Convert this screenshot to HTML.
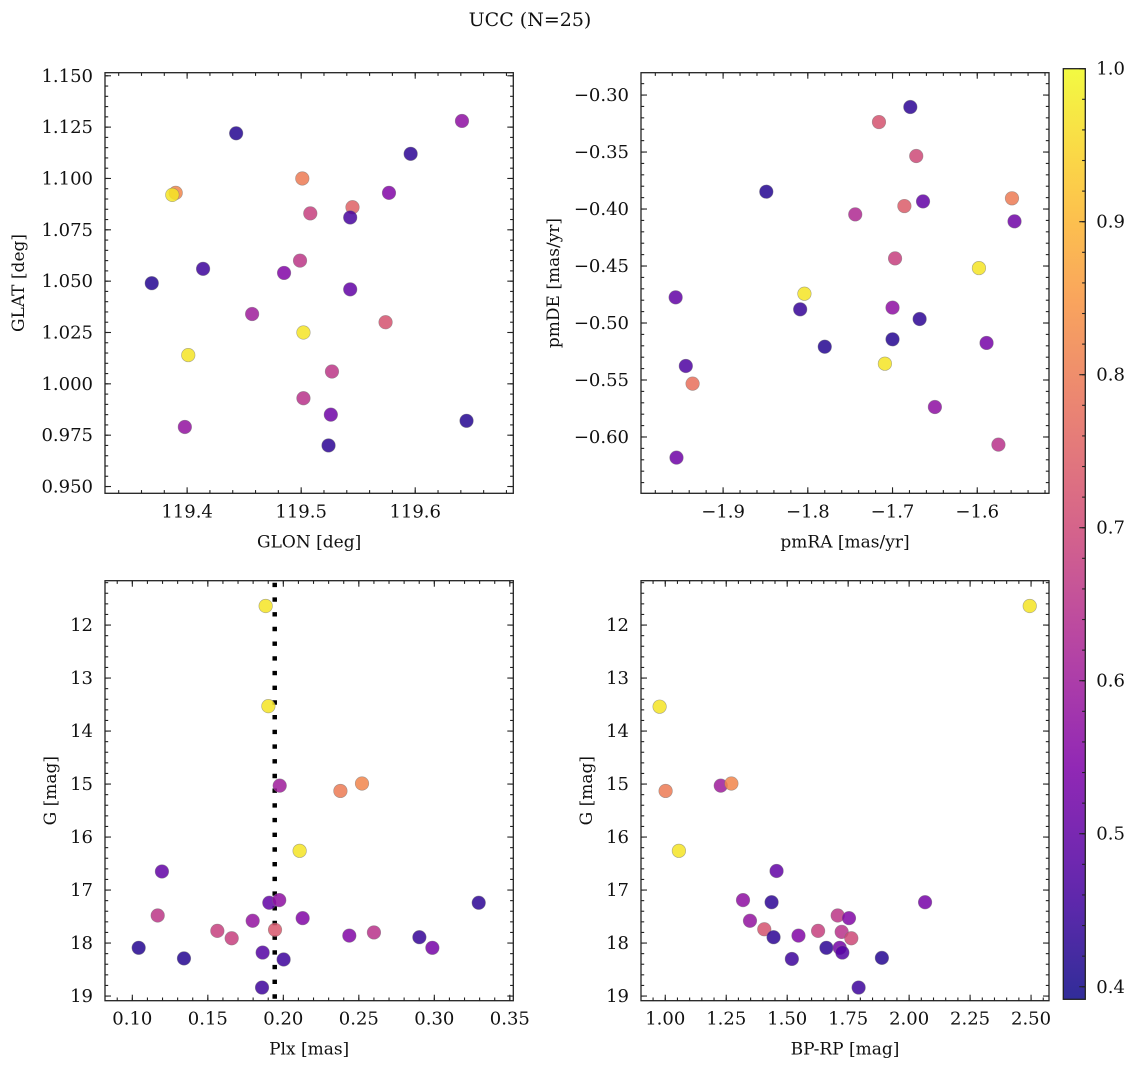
<!DOCTYPE html>
<html><head><meta charset="utf-8">
<style>
html,body{margin:0;padding:0;background:#fff;}
svg{display:block;font-family:"DejaVu Serif","Liberation Serif",serif;}
</style></head>
<body>
<svg id="fig" width="1136" height="1068" viewBox="0 0 1136 1068" xmlns="http://www.w3.org/2000/svg">
<text x="530" y="26" font-size="19" text-anchor="middle" fill="#111">UCC (N=25)</text>
</svg>
<script>
// ---- data: panel 1 (GLON vs GLAT)
const p1Glon=[119.641,119.443,119.596,119.390,119.387,119.501,119.577,119.545,119.508,119.543,119.414,119.499,119.485,119.369,119.543,119.457,119.502,119.574,119.401,119.527,119.502,119.526,119.398,119.645,119.524];
const p1Glat=[1.128,1.122,1.112,1.093,1.092,1.100,1.093,1.086,1.083,1.081,1.056,1.060,1.054,1.049,1.046,1.034,1.025,1.030,1.014,1.006,0.993,0.985,0.979,0.982,0.970];
const p1Prob=[0.57,0.42,0.43,0.82,0.97,0.80,0.55,0.75,0.68,0.46,0.45,0.66,0.55,0.42,0.50,0.60,0.97,0.72,0.97,0.66,0.65,0.52,0.58,0.42,0.43];
// ---- panel 2 (pmRA vs pmDE)
const p2PmRA=[-1.679,-1.716,-1.672,-1.849,-1.559,-1.686,-1.664,-1.744,-1.556,-1.697,-1.598,-1.804,-1.956,-1.700,-1.809,-1.668,-1.700,-1.780,-1.589,-1.944,-1.709,-1.936,-1.650,-1.575,-1.955];
const p2PmDE=[-0.3105,-0.3237,-0.3535,-0.3848,-0.3906,-0.3974,-0.3933,-0.4047,-0.4108,-0.4433,-0.4518,-0.4743,-0.4775,-0.4865,-0.4880,-0.4965,-0.5143,-0.5208,-0.5175,-0.5377,-0.5357,-0.5532,-0.5737,-0.6067,-0.6181];
const p2Prob=[0.43,0.72,0.70,0.42,0.80,0.74,0.50,0.63,0.52,0.68,0.97,0.97,0.50,0.57,0.44,0.43,0.42,0.42,0.53,0.47,0.97,0.78,0.57,0.65,0.52];
// ---- panel 3 (Plx vs G)
const p3Plx=[0.1883,0.1901,0.1976,0.2378,0.2521,0.2108,0.1196,0.1168,0.1907,0.1973,0.2128,0.3294,0.1797,0.1563,0.1658,0.1945,0.2437,0.2600,0.2901,0.2987,0.1042,0.1342,0.1863,0.2002,0.1859];
const p3G=[11.64,13.53,15.03,15.13,14.99,16.26,16.65,17.48,17.24,17.19,17.53,17.24,17.58,17.77,17.91,17.75,17.86,17.80,17.89,18.09,18.09,18.29,18.18,18.31,18.84];
const p3Prob=[0.97,0.97,0.60,0.80,0.82,0.97,0.50,0.66,0.50,0.57,0.55,0.43,0.58,0.68,0.68,0.73,0.55,0.65,0.44,0.53,0.42,0.42,0.48,0.45,0.45];
const p3PlxMedian=0.1943;
// ---- panel 4 (BP-RP vs G)
const p4BpRp=[2.4946,0.9768,1.0014,1.2275,1.2711,1.0559,1.4564,1.3188,1.4360,2.0654,1.3474,1.7071,1.7534,1.4060,1.6267,1.7234,1.5463,1.7629,1.4441,1.6608,1.7153,1.7262,1.5191,1.8883,1.7929];
const p4G=[11.64,13.54,15.13,15.03,14.99,16.26,16.64,17.19,17.23,17.23,17.58,17.48,17.53,17.74,17.77,17.79,17.86,17.91,17.89,18.09,18.09,18.18,18.30,18.28,18.84];
const p4Prob=[0.97,0.97,0.80,0.60,0.82,0.97,0.50,0.57,0.43,0.53,0.58,0.66,0.55,0.72,0.68,0.65,0.55,0.70,0.43,0.43,0.53,0.48,0.45,0.42,0.45];
// ---- tick labels
const p1XTicks=[119.4,119.5,119.6];
const p1YTicks=[0.950,0.975,1.000,1.025,1.050,1.075,1.100,1.125,1.150];
const p2XTicks=[-1.9,-1.8,-1.7,-1.6];
const p2YTicks=[-0.60,-0.55,-0.50,-0.45,-0.40,-0.35,-0.30];
const p3XTicks=[0.10,0.15,0.20,0.25,0.30,0.35];
const gTicks=[12,13,14,15,16,17,18,19];
const p4XTicks=[1.00,1.25,1.50,1.75,2.00,2.25,2.50];
const cbTicks=[0.4,0.5,0.6,0.7,0.8,0.9,1.0];
const vmin=0.3918, vmax=1.0;

const NS="http://www.w3.org/2000/svg";
const svg=document.getElementById('fig');
function mk(tag,attrs,parent){const e=document.createElementNS(NS,tag);for(const k in attrs)e.setAttribute(k,attrs[k]);(parent||svg).appendChild(e);return e;}
const stops=[[13,8,135],[76,2,161],[126,3,168],[169,35,149],[204,71,120],[229,107,93],[248,148,65],[253,195,40],[240,249,33]];
function plasma(t){t=Math.max(0,Math.min(1,t));const p=t*8,i=Math.min(7,Math.floor(p)),f=p-i;const a=stops[i],b=stops[i+1];return 'rgb('+a.map((v,k)=>Math.round(v+(b[k]-v)*f)).join(',')+')';}
function fmt(v,d){return (v<0?'\u2212':'')+Math.abs(v).toFixed(d);}

function panel(o){
  const g=mk('g',{});
  
  
  const sx=v=>o.x0+(v-o.xd[0])/(o.xd[1]-o.xd[0])*(o.x1-o.x0);
  const sy=v=>o.inv? o.y0+(v-o.yd[0])/(o.yd[1]-o.yd[0])*(o.y1-o.y0) : o.y1-(v-o.yd[0])/(o.yd[1]-o.yd[0])*(o.y1-o.y0);
  // extra line
  if(o.vline!==undefined){const l=mk('line',{x1:sx(o.vline),x2:sx(o.vline),y1:o.y0+2,y2:o.y1,stroke:'#000','stroke-width':4.5,'stroke-dasharray':'4.4 10.3'},g);
    }
  // points
  for(let i=0;i<o.xs.length;i++){
    const c=mk('circle',{cx:sx(o.xs[i]),cy:sy(o.ys[i]),r:6.8,fill:plasma((o.cs[i]-vmin)/(vmax-vmin)),'fill-opacity':0.85,stroke:'#777','stroke-opacity':0.6,'stroke-width':0.6},g);
    
    
  }
  // frame
  const fr=mk('rect',{x:o.x0,y:o.y0,width:o.x1-o.x0,height:o.y1-o.y0,fill:'none',stroke:'#222','stroke-width':1.3},g);
  
  // ticks
  const tk=mk('g',{stroke:'#222','stroke-width':1.1},g);
  
  const ln=(x1,y1,x2,y2)=>mk('line',{x1,y1,x2,y2},tk);
  const maj=6,mnr=3.2;
  function xt(v,L){const x=sx(v);if(x<o.x0-0.5||x>o.x1+0.5)return;ln(x,o.y1,x,o.y1-L);ln(x,o.y0,x,o.y0+L);}
  function yt(v,L){const y=sy(v);if(y<o.y0-0.5||y>o.y1+0.5)return;ln(o.x0,y,o.x0+L,y);ln(o.x1,y,o.x1-L,y);}
  const xa=Math.min(...o.xd),xb=Math.max(...o.xd),ya=Math.min(...o.yd),yb=Math.max(...o.yd);
  for(let k=Math.ceil(xa/o.xm-1e-6);k*o.xm<=xb+1e-9;k++)xt(k*o.xm,mnr);
  for(let k=Math.ceil(ya/o.ym-1e-6);k*o.ym<=yb+1e-9;k++)yt(k*o.ym,mnr);
  o.xt.forEach(v=>{xt(v,maj);const x=sx(v);if(x<o.x0-1||x>o.x1+1)return;
    const t=mk('text',{x:x,y:o.y1+24,'font-size':18,'text-anchor':'middle',fill:'#111'},g);t.textContent=fmt(v,o.xdp);
    });
  o.yt.forEach(v=>{yt(v,maj);const y=sy(v);
    const t=mk('text',{x:o.x0-12,y:y+6,'font-size':18,'text-anchor':'end',fill:'#111'},g);t.textContent=fmt(v,o.ydp);
    });
  const xl=mk('text',{x:(o.x0+o.x1)/2,y:o.y1+54,'font-size':17,'text-anchor':'middle',fill:'#111'},g);xl.textContent=o.xlab;
  
  const yl=mk('text',{x:0,y:0,'font-size':17,'text-anchor':'middle',fill:'#111',transform:'translate('+o.ylx+','+((o.y0+o.y1)/2)+') rotate(-90)'},g);yl.textContent=o.ylab;
  
}

panel({name:'glon-glat-panel',x0:105,x1:513.3,y0:72.7,y1:493.3,xd:[119.328,119.686],yd:[0.9467,1.1515],xs:p1Glon,ys:p1Glat,cs:p1Prob,xt:p1XTicks,yt:p1YTicks,xm:0.02,ym:0.005,xdp:1,ydp:3,xlab:'GLON [deg]',ylab:'GLAT [deg]',ylx:24});
panel({name:'pm-panel',x0:641,x1:1049,y0:72.7,y1:493.3,xd:[-1.9969,-1.5153],yd:[-0.6494,-0.2804],xs:p2PmRA,ys:p2PmDE,cs:p2Prob,xt:p2XTicks,yt:p2YTicks,xm:0.02,ym:0.01,xdp:1,ydp:2,xlab:'pmRA [mas/yr]',ylab:'pmDE [mas/yr]',ylx:559});
panel({name:'plx-g-panel',x0:105,x1:513.3,y0:580.7,y1:1000.7,xd:[0.0819,0.3523],yd:[11.163,19.088],inv:true,xs:p3Plx,ys:p3G,cs:p3Prob,xt:p3XTicks,yt:gTicks,xm:0.01,ym:0.2,xdp:2,ydp:0,xlab:'Plx [mas]',ylab:'G [mag]',ylx:56,vline:p3PlxMedian});
panel({name:'cmd-panel',x0:641,x1:1049,y0:580.7,y1:1000.7,xd:[0.9005,2.5736],yd:[11.163,19.088],inv:true,xs:p4BpRp,ys:p4G,cs:p4Prob,xt:p4XTicks,yt:gTicks,xm:0.05,ym:0.2,xdp:2,ydp:0,xlab:'BP-RP [mag]',ylab:'G [mag]',ylx:592});

// colorbar
(function(){
  const x0=1063.3,x1=1085.3,y0=68.7,y1=999.3;
  const defs=mk('defs',{});
  const lg=mk('linearGradient',{id:'cbg',x1:0,y1:1,x2:0,y2:0},defs);
  for(let i=0;i<=20;i++){const f=i/20;mk('stop',{offset:f,'stop-color':plasma(f)},lg);}
  const g=mk('g',{});
  
  mk('rect',{x:x0,y:y0,width:x1-x0,height:y1-y0,fill:'url(#cbg)','fill-opacity':0.85},g);
  mk('rect',{x:x0,y:y0,width:x1-x0,height:y1-y0,fill:'none',stroke:'#222','stroke-width':1.3},g);
  const sy=v=>y1-(v-vmin)/(vmax-vmin)*(y1-y0);
  for(let k=20;k<=50;k++){const v=k*0.02;if(v<vmin)continue;mk('line',{x1:x1,x2:x1-3.2,y1:sy(v),y2:sy(v),stroke:'#222','stroke-width':1.1},g);}
  cbTicks.forEach(v=>{const y=sy(v);mk('line',{x1:x1,x2:x1-6,y1:y,y2:y,stroke:'#222','stroke-width':1.1},g);
    const t=mk('text',{x:x1+11,y:y+6,'font-size':18,fill:'#111'},g);t.textContent=v.toFixed(1);
    });
})();
</script>
</body></html>
